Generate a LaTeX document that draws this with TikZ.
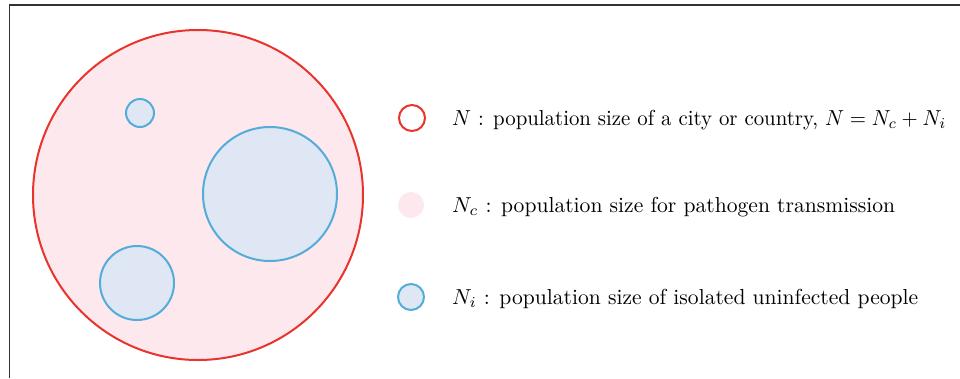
\documentclass[tikz,border=0pt]{standalone}
\definecolor{cred}{RGB}{232,52,44}
\definecolor{cpink}{RGB}{253,232,238}
\definecolor{cblue}{RGB}{84,172,218}
\definecolor{cbluefill}{RGB}{222,231,243}
\definecolor{cframe}{RGB}{50,50,50}
\newlength\legw
\newcommand{\legfit}[2]{\settowidth\legw{\fontsize{10}{12}\selectfont #2}%
  \pgfmathsetmacro\leghf{#1/\legw}%
  \scalebox{\leghf}[2.17]{\fontsize{10}{12}\selectfont #2}}
\begin{document}
\begin{tikzpicture}[x=1pt,y=-1pt,
  bigc/.style={circle,draw=cred,fill=cpink,line width=2pt,inner sep=0pt},
  isoc/.style={circle,draw=cblue,fill=cbluefill,line width=2pt,inner sep=0pt},
  legc/.style={circle,inner sep=0pt,minimum size=26pt},
  legt/.style={anchor=base west,inner sep=0pt}]
\useasboundingbox (0,0) rectangle (960,378);
\draw[cframe,line width=1.5pt] (9.5,378) -- (9.5,5) -- (960,5);
\node[bigc,minimum size=330pt] (city) at (198,195) {};
\node[isoc,minimum size=28pt] (s1) at (140,113) {};
\node[isoc,minimum size=134pt] (s2) at (270,194) {};
\node[isoc,minimum size=74pt] (s3) at (137,283) {};
\node[legc,draw=cred,line width=2pt] (l1) at (412,118) {};
\node[legc,fill=cpink] (l2) at (411,205) {};
\node[legc,draw=cblue,fill=cbluefill,line width=2pt] (l3) at (411,297) {};
\node[legt] (t1) at (452,125) {\legfit{494}{$N$ : population size of a city or country, $N=N_c+N_i$}};
\node[legt] (t2) at (452,212) {\legfit{443}{$N_c$ : population size for pathogen transmission}};
\node[legt] (t3) at (452,304) {\legfit{466}{$N_i$ : population size of isolated uninfected people}};
\end{tikzpicture}
\end{document}
